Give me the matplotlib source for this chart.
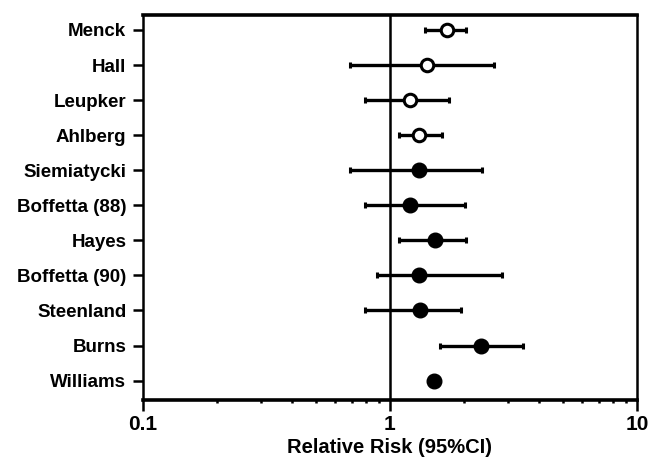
import matplotlib
matplotlib.use("Agg")
import matplotlib.pyplot as plt
import numpy as np

# studies, relative risk and 95% CI
studies = ["Menck", "Hall", "Leupker", "Ahlberg", "Siemiatycki", "Boffetta (88)",
           "Hayes", "Boffetta (90)", "Steenland", "Burns", "Williams"]
rr = [1.70, 1.41, 1.21, 1.31, 1.31, 1.20, 1.52, 1.31, 1.32, 2.34, 1.51]
ci_low = [1.39, 0.69, 0.79, 1.09, 0.69, 0.79, 1.09, 0.89, 0.79, 1.60, np.nan]
ci_high = [2.04, 2.64, 1.73, 1.63, 2.35, 2.02, 2.03, 2.83, 1.93, 3.44, np.nan]
# first four studies drawn with open circles
open_marker = [True, True, True, True, False, False, False, False, False, False, False]

plt.rcParams['font.family'] = ['Liberation Sans', 'DejaVu Sans']

fig = plt.figure(figsize=(6.56, 4.65), dpi=100)
ax = fig.add_axes([0.218, 0.140, 0.753, 0.828])

ypos = np.arange(len(studies))
for i in range(len(studies)):
    if not np.isnan(ci_low[i]):
        ax.errorbar(rr[i], ypos[i],
                    xerr=[[rr[i] - ci_low[i]], [ci_high[i] - rr[i]]],
                    fmt='none', ecolor='black', elinewidth=2.4,
                    capsize=2.5, capthick=2.2, zorder=2)
    if open_marker[i]:
        ax.plot(rr[i], ypos[i], 'o', ms=9, mfc='white', mec='black', mew=2.2, zorder=3)
    else:
        ax.plot(rr[i], ypos[i], 'o', ms=10.5, mfc='black', mec='black', zorder=3)

ax.axvline(1, color='black', lw=1.8, zorder=1)

ax.set_xscale('log')
ax.set_xlim(0.1, 10)
ax.set_ylim(10.55, -0.43)
ax.set_yticks(ypos)
ax.set_yticklabels(studies, fontsize=13.5, fontweight='bold')
ax.set_xticks([0.1, 1, 10])
ax.set_xticklabels(['0.1', '1', '10'], fontsize=15, fontweight='bold')
ax.set_xlabel('Relative Risk (95%CI)', fontsize=14.5, fontweight='bold', labelpad=3)

ax.tick_params(axis='y', direction='out', length=7, width=1.8, pad=5)
ax.tick_params(axis='x', which='major', direction='out', length=8, width=1.8, pad=3)
ax.tick_params(axis='x', which='minor', direction='out', length=2.5, width=1.8)
ax.xaxis.set_minor_formatter(matplotlib.ticker.NullFormatter())

for side in ['top', 'bottom']:
    ax.spines[side].set_linewidth(2.6)
for side in ['left', 'right']:
    ax.spines[side].set_linewidth(1.8)

fig.savefig('out.png', dpi=100)
